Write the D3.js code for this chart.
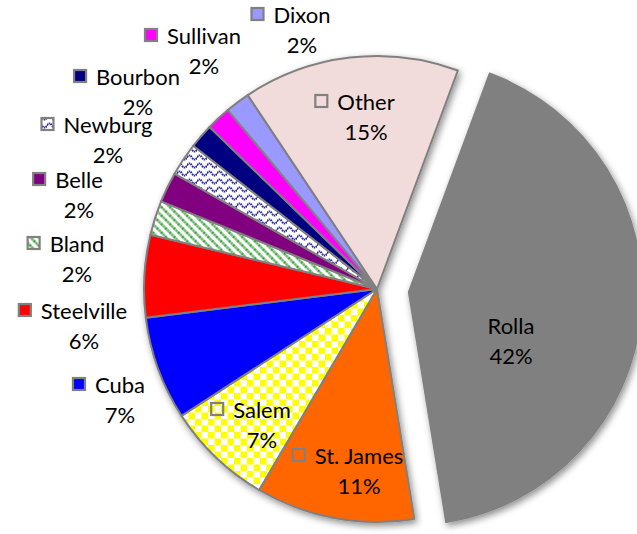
<!DOCTYPE html>
<html>
<head>
<meta charset="utf-8">
<script src="https://cdn.jsdelivr.net/npm/d3@7"></script>
<style>
  html, body { margin: 0; padding: 0; background: #fff; }
  svg { display: block; }
  text { font-family: Lato, "Open Sans", sans-serif; font-size: 22px; fill: #000; }
</style>
</head>
<body>
<svg id="chart" width="637" height="534"></svg>
<script>
// ---- data ----
const categories = ["Rolla", "St. James", "Salem", "Cuba", "Steelville", "Bland", "Belle", "Newburg", "Bourbon", "Sullivan", "Dixon", "Other"];
const values     = [41.8, 11.0, 7.4, 7.2, 5.7, 2.4, 2.1, 2.3, 1.7, 1.7, 1.7, 15.0];
const fills      = ["#808080", "#FF6600", "url(#checker)", "#0000FF", "#FF0000", "url(#stripes)", "#800080", "url(#waves)", "#000080", "#FF00FF", "#9999FF", "#F2DCDB"];
const exploded   = ["Rolla"];
// label layout: [center x offset, first baseline y offset] relative to pie center
const labelLayout = [[134, 45], [-18, 175], [-115, 129], [-257, 104], [-293, 30], [-300, -37], [-298, -101], [-269, -156], [-239, -204], [-173, -245], [-75, -266], [-11, -179]];
const showKey    = [false, true, true, true, true, true, true, true, true, true, true, true];

const svg = d3.select("#chart");
const cx = 377, cy = 289, R = 233, explodeDist = 32;
const startDeg = 20.3;

// ---- defs: patterns & shadow ----
const defs = svg.append("defs");
const checker = defs.append("pattern").attr("id", "checker").attr("patternUnits", "userSpaceOnUse")
  .attr("width", 13).attr("height", 13);
checker.append("rect").attr("width", 13).attr("height", 13).attr("fill", "#fff");
checker.append("rect").attr("width", 6.5).attr("height", 6.5).attr("fill", "#FFFF00");
checker.append("rect").attr("x", 6.5).attr("y", 6.5).attr("width", 6.5).attr("height", 6.5).attr("fill", "#FFFF00");

const stripes = defs.append("pattern").attr("id", "stripes").attr("patternUnits", "userSpaceOnUse")
  .attr("width", 6).attr("height", 6).attr("patternTransform", "rotate(-45)");
stripes.append("rect").attr("width", 6).attr("height", 6).attr("fill", "#fff");
stripes.append("line").attr("x1", 1.5).attr("y1", 0).attr("x2", 1.5).attr("y2", 6)
  .attr("stroke", "#2f9a2f").attr("stroke-width", 2.4).attr("stroke-dasharray", "1.5,0.8");

const waves = defs.append("pattern").attr("id", "waves").attr("patternUnits", "userSpaceOnUse")
  .attr("width", 10).attr("height", 8);
waves.append("rect").attr("width", 10).attr("height", 8).attr("fill", "#fff");
waves.append("path").attr("d", "M0,4.5 Q2.5,0.5 5,4.5 T10,4.5").attr("fill", "none")
  .attr("stroke", "#2a2a9c").attr("stroke-width", 2).attr("stroke-dasharray", "1.6,0.6");

const filt = defs.append("filter").attr("id", "shadow").attr("x", "-20%").attr("y", "-20%").attr("width", "140%").attr("height", "140%");
filt.append("feDropShadow").attr("dx", 2).attr("dy", 3).attr("stdDeviation", 3.5)
  .attr("flood-color", "#000").attr("flood-opacity", 0.45);

// ---- pie ----
const data = categories.map((c, i) => ({ name: c, value: values[i], fill: fills[i], i }));
const total = d3.sum(values);
const pie = d3.pie().value(d => d.value).sort(null)
  .startAngle(startDeg * Math.PI / 180).endAngle(startDeg * Math.PI / 180 + 2 * Math.PI);
const arcs = pie(data);
const arc = d3.arc().innerRadius(0).outerRadius(R);

const g = svg.append("g").attr("transform", `translate(${cx},${cy})`).attr("filter", "url(#shadow)");
g.selectAll("path").data(arcs).join("path")
  .attr("d", arc)
  .attr("fill", d => d.data.fill)
  .attr("stroke", "#808080")
  .attr("stroke-width", 2)
  .attr("stroke-linejoin", "round")
  .attr("transform", d => {
    if (!exploded.includes(d.data.name)) return null;
    const a = (d.startAngle + d.endAngle) / 2;
    return `translate(${explodeDist * Math.sin(a)},${-explodeDist * Math.cos(a)})`;
  });

// ---- labels ----
const lg = svg.append("g").attr("transform", `translate(${cx},${cy})`);
arcs.forEach((d, i) => {
  const [lx, ly] = labelLayout[i];
  const pct = Math.round(d.data.value / total * 100) + "%";
  const name = lg.append("text").attr("x", lx).attr("y", ly).attr("text-anchor", "middle").text(d.data.name);
  lg.append("text").attr("x", lx).attr("y", ly + 30).attr("text-anchor", "middle").text(pct);
  if (showKey[i]) {
    const w = name.node().getComputedTextLength();
    lg.append("rect")
      .attr("x", lx - w / 2 - 22).attr("y", ly - 15)
      .attr("width", 12).attr("height", 12)
      .attr("fill", d.data.fill)
      .attr("stroke", "#808080").attr("stroke-width", 2.2);
  }
});
</script>
</body>
</html>
